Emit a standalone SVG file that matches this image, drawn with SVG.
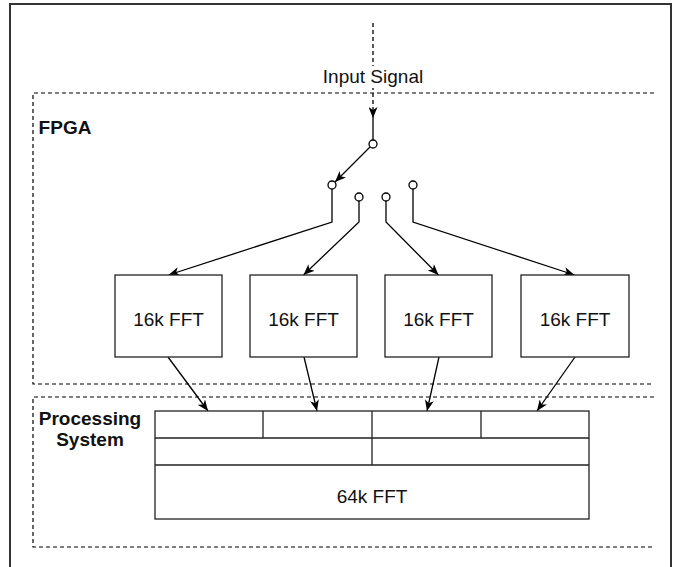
<svg xmlns="http://www.w3.org/2000/svg" width="681" height="567" viewBox="0 0 681 567">
  <defs>
    <marker id="arr" viewBox="0 0 11 9" refX="11" refY="4.5" markerWidth="11" markerHeight="9" markerUnits="userSpaceOnUse" orient="auto">
      <path d="M0,0 L11,4.5 L0,9 L3,4.5 z" fill="#000"/>
    </marker>
    <style>
      .frame{fill:none;stroke:#333;stroke-width:2}
      .group{fill:none;stroke:#000;stroke-width:1.2;stroke-dasharray:4 3}
      .box{fill:#fff;stroke:#222;stroke-width:1.3}
      .edge{fill:none;stroke:#000;stroke-width:1.3}
      .dash{stroke-dasharray:4 3}
      .pin{fill:#fff;stroke:#000;stroke-width:1.3}
      .lbl{font-family:"Liberation Sans",Arial,sans-serif;font-size:19px;fill:#111;text-anchor:middle}
      .hdr{font-family:"Liberation Sans",Arial,sans-serif;font-size:19px;font-weight:bold;fill:#111;text-anchor:middle}
    </style>
  </defs>
  <rect width="681" height="567" fill="#fff"/>
  <rect class="frame" x="10" y="4" width="661" height="580"/>

  <g id="fpga">
    <path class="group" d="M654,93 H33 V384 H654"/>
    <text class="hdr" x="65" y="134">FPGA</text>
  </g>
  <g id="processing-system">
    <path class="group" d="M654,397 H33 V547 H654"/>
    <text class="hdr" x="90" y="425">Processing</text>
    <text class="hdr" x="90" y="446">System</text>
  </g>

  <g id="connectors">
    <path class="edge dash" d="M373,23 V118" marker-end="url(#arr)"/>
    <path class="edge" d="M373,118 V140"/>
    <path class="edge" d="M370,147 L335,182" marker-end="url(#arr)"/>
    <path class="edge" d="M332,189 V222 L168.5,275" marker-end="url(#arr)"/>
    <path class="edge" d="M359,201 V222 L303.5,275" marker-end="url(#arr)"/>
    <path class="edge" d="M386,201 V222 L438.5,275" marker-end="url(#arr)"/>
    <path class="edge" d="M413,189 V222 L574.5,275" marker-end="url(#arr)"/>
    <path class="edge" d="M168,357 L208,411" marker-end="url(#arr)"/>
    <path class="edge" d="M304,357 L317,411" marker-end="url(#arr)"/>
    <path class="edge" d="M439,357 L427,411" marker-end="url(#arr)"/>
    <path class="edge" d="M575,357 L537,411" marker-end="url(#arr)"/>
  </g>

  <g id="input-signal">
    <rect x="320" y="66" width="106" height="22" fill="#fff"/>
    <text class="lbl" x="373" y="83">Input Signal</text>
  </g>

  <g id="switch">
    <circle class="pin" cx="373" cy="144" r="4"/>
    <circle class="pin" cx="332" cy="185" r="4"/>
    <circle class="pin" cx="359" cy="197" r="4"/>
    <circle class="pin" cx="386" cy="197" r="4"/>
    <circle class="pin" cx="413" cy="185" r="4"/>
  </g>

  <g id="fft1"><rect class="box" x="115" y="275" width="107" height="82"/><text class="lbl" x="168.5" y="326">16k FFT</text></g>
  <g id="fft2"><rect class="box" x="250" y="275" width="107" height="82"/><text class="lbl" x="303.5" y="326">16k FFT</text></g>
  <g id="fft3"><rect class="box" x="385" y="275" width="107" height="82"/><text class="lbl" x="438.5" y="326">16k FFT</text></g>
  <g id="fft4"><rect class="box" x="521" y="275" width="108" height="82"/><text class="lbl" x="575" y="326">16k FFT</text></g>

  <g id="fft64">
    <rect class="box" x="155" y="411" width="434" height="108"/>
    <path class="box" d="M155,438 H589 M155,465 H589 M263,411 V438 M372,411 V465 M481,411 V438"/>
    <text class="lbl" x="372" y="503">64k FFT</text>
  </g>
</svg>
